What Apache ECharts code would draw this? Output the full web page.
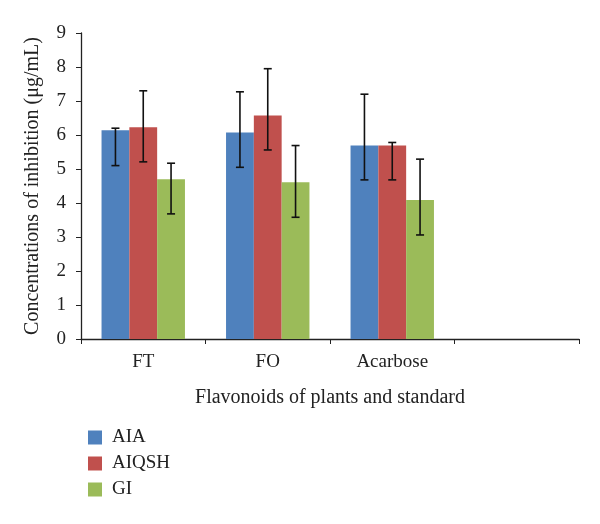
<!doctype html>
<html>
<head>
<meta charset="utf-8">
<script src="https://cdn.jsdelivr.net/npm/echarts@6/dist/echarts.min.js"></script>
</head>
<body style="margin:0">
<div id="main" style="width:600px;height:524px;"></div>
<script type="text/javascript">
var categories = ['FT', 'FO', 'Acarbose', ''];
var seriesNames = ['AIA', 'AIQSH', 'GI'];
var colors = ['#4F81BD', '#C0504D', '#9BBB59'];

var aia = [6.14, 6.07, 5.69];
var aiaLow = [5.10, 5.05, 4.68];
var aiaHigh = [6.20, 7.27, 7.20];

var aiqsh = [6.23, 6.57, 5.69];
var aiqshLow = [5.21, 5.56, 4.68];
var aiqshHigh = [7.30, 7.95, 5.78];

var gi = [4.70, 4.61, 4.09];
var giLow = [3.68, 3.58, 3.06];
var giHigh = [5.17, 5.69, 5.29];

var values = [aia, aiqsh, gi];
var lows = [aiaLow, aiqshLow, giLow];
var highs = [aiaHigh, aiqshHigh, giHigh];

var font = 'Liberation Serif';
var catGap = 0.33;

var myChart = echarts.init(document.getElementById('main'));

function errData(k) {
  var res = [];
  for (var i = 0; i < values[k].length; i++) {
    res.push([i, lows[k][i], highs[k][i]]);
  }
  return res;
}

function errSeries(k) {
  return {
    type: 'custom',
    name: seriesNames[k] + ' err',
    data: errData(k),
    encode: { x: 0, y: [1, 2] },
    z: 10,
    silent: true,
    renderItem: function (params, api) {
      var cat = api.value(0);
      var lo = api.coord([cat, api.value(1)]);
      var hi = api.coord([cat, api.value(2)]);
      var bw = api.size([1, 0])[0] * (1 - catGap) / 3;
      var x = lo[0] + (k - 1) * bw;
      var cap = 4;
      var st = { stroke: '#111', lineWidth: 1.6 };
      return {
        type: 'group',
        children: [
          { type: 'line', shape: { x1: x, y1: hi[1], x2: x, y2: lo[1] }, style: st },
          { type: 'line', shape: { x1: x - cap, y1: hi[1], x2: x + cap, y2: hi[1] }, style: st },
          { type: 'line', shape: { x1: x - cap, y1: lo[1], x2: x + cap, y2: lo[1] }, style: st }
        ]
      };
    }
  };
}

var series = [];
for (var k = 0; k < 3; k++) {
  series.push({
    name: seriesNames[k],
    type: 'bar',
    data: values[k],
    barGap: '0%',
    barCategoryGap: (catGap * 100) + '%',
    itemStyle: { color: colors[k] }
  });
}
for (var k = 0; k < 3; k++) {
  series.push(errSeries(k));
}

var option = {
  animation: false,
  textStyle: { fontFamily: font },
  grid: { left: 81, right: 21, top: 33, bottom: 185 },
  legend: {
    data: seriesNames,
    orient: 'vertical',
    left: 83,
    top: 423,
    itemWidth: 14,
    itemHeight: 14,
    itemGap: 7,
    icon: 'rect',
    textStyle: { fontFamily: font, fontSize: 19, color: '#222', padding: [0, 0, 0, 5] }
  },
  xAxis: {
    type: 'category',
    data: categories,
    name: 'Flavonoids of plants and standard',
    nameLocation: 'middle',
    nameGap: 49,
    nameTextStyle: { fontFamily: font, fontSize: 20, color: '#222' },
    axisLine: { lineStyle: { color: '#222', width: 1.3 } },
    axisTick: { show: true, length: 5, lineStyle: { color: '#222' } },
    axisLabel: { fontFamily: font, fontSize: 19, color: '#222', margin: 14 }
  },
  yAxis: {
    type: 'value',
    min: 0,
    max: 9,
    interval: 1,
    name: 'Concentrations of inhibition (\u03bcg/mL)',
    nameLocation: 'middle',
    nameGap: 38,
    nameTextStyle: { fontFamily: font, fontSize: 20, color: '#222' },
    axisLine: { show: true, lineStyle: { color: '#222', width: 1.3 } },
    axisTick: { show: true, length: 5, lineStyle: { color: '#222' } },
    axisLabel: { fontFamily: font, fontSize: 19, color: '#222', margin: 15 },
    splitLine: { show: false }
  },
  series: series
};

myChart.setOption(option);
</script>
</body>
</html>
